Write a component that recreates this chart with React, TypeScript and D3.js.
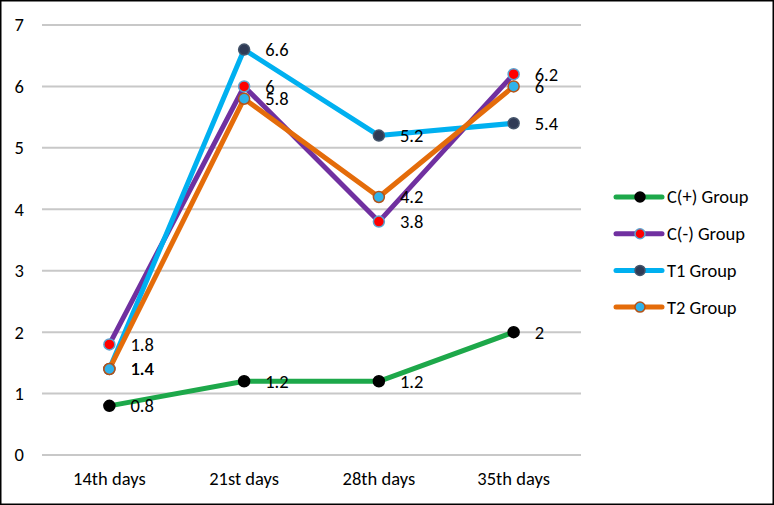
import React from "react";
import * as d3 from "d3";

const categories = ["14th days", "21st days", "28th days", "35th days"];
const seriesNames = ["C(+) Group", "C(-) Group", "T1 Group", "T2 Group"];
const cPlus = [0.8, 1.2, 1.2, 2];
const cMinus = [1.8, 6, 3.8, 6.2];
const t1 = [1.4, 6.6, 5.2, 5.4];
const t2 = [1.4, 5.8, 4.2, 6];
const yTicks = [0, 1, 2, 3, 4, 5, 6, 7];

const styles = [
  { line: "#1DA84A", fill: "#000000", stroke: "#000000" },
  { line: "#7030A0", fill: "#FF0000", stroke: "#5BA3D0" },
  { line: "#00B0F0", fill: "#2F3A55", stroke: "#44546A" },
  { line: "#E46C0A", fill: "#2FB2EA", stroke: "#B55318" },
];

const W = 774;
const H = 505;
const FONT = "Carlito, Calibri, 'Open Sans', sans-serif";
const FS = 18.5;

export default function App() {
  const series = [cPlus, cMinus, t1, t2];
  const x = d3.scaleBand<string>().domain(categories).range([42, 581]);
  const y = d3.scaleLinear().domain([0, 7]).range([455, 25]);
  const cx = (c: string) => (x(c) as number) + x.bandwidth() / 2;
  const line = d3
    .line<number>()
    .x((_, i) => cx(categories[i]))
    .y((v) => y(v));

  return (
    <div style={{ position: "fixed", left: 0, top: 0 }}>
      <svg width={W} height={H} style={{ display: "block", background: "#fff" }}>
        <rect x={0.75} y={0.75} width={W - 1.5} height={H - 1.5} fill="none" stroke="#000" strokeWidth={1.5} />
        {yTicks.map((t) => (
          <g key={t}>
            <line x1={42} x2={581} y1={y(t)} y2={y(t)} stroke="#C8C8C8" strokeWidth={2} />
            <text x={24} y={y(t)} dy="0.35em" textAnchor="end" fontFamily={FONT} fontSize={FS} fill="#000">
              {t}
            </text>
          </g>
        ))}
        {categories.map((c) => (
          <text key={c} x={cx(c)} y={479} dy="0.35em" textAnchor="middle" fontFamily={FONT} fontSize={FS} fill="#000">
            {c}
          </text>
        ))}
        {series.map((s, k) => (
          <path key={k} d={line(s) as string} fill="none" stroke={styles[k].line} strokeWidth={5} strokeLinejoin="round" strokeLinecap="round" />
        ))}
        {series.map((s, k) =>
          s.map((v, i) => (
            <circle key={`${k}-${i}`} cx={cx(categories[i])} cy={y(v)} r={5.5} fill={styles[k].fill} stroke={styles[k].stroke} strokeWidth={1.5} />
          ))
        )}
        {series.map((s, k) =>
          s.map((v, i) => (
            <text key={`l${k}-${i}`} x={cx(categories[i]) + 21} y={y(v)} dy="0.35em" fontFamily={FONT} fontSize={FS} fill="#000">
              {v}
            </text>
          ))
        )}
        {seriesNames.map((n, k) => {
          const ly = 197 + k * 36.7;
          return (
            <g key={n}>
              <line x1={616} x2={662} y1={ly} y2={ly} stroke={styles[k].line} strokeWidth={5} strokeLinecap="round" />
              <circle cx={640} cy={ly} r={5} fill={styles[k].fill} stroke={styles[k].stroke} strokeWidth={1.5} />
              <text x={667} y={ly} dy="0.35em" fontFamily={FONT} fontSize={FS} fill="#000">
                {n}
              </text>
            </g>
          );
        })}
      </svg>
    </div>
  );
}
